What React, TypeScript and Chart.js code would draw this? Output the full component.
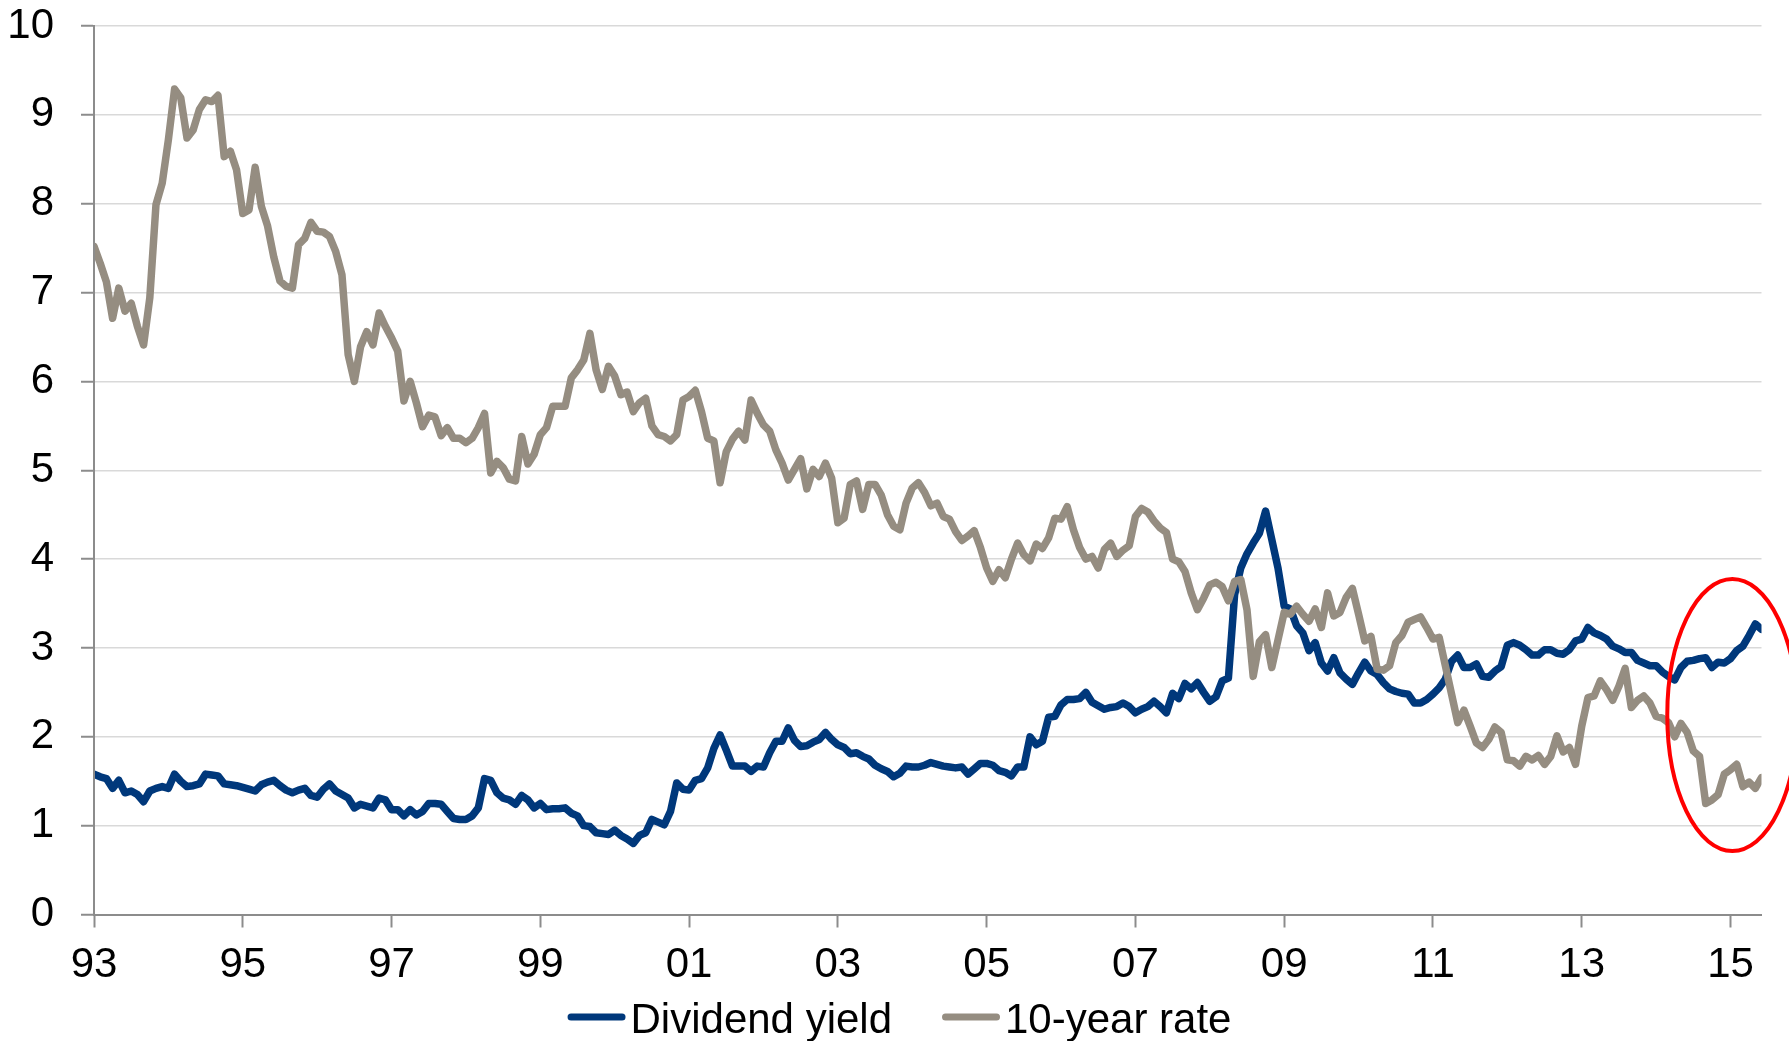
import React, { useEffect, useRef } from "react";
import { Chart, registerables } from "chart.js";

Chart.register(...registerables);

const FONT = '"Liberation Sans", Arial, Helvetica, sans-serif';
const AXIS_COLOR = "#8c8c8c";
const GRID_COLOR = "#d9d9d9";

// Monthly observations, Jan 1993 .. Jun 2015 (index = months since Jan 1993)
const startYear = 1993;
const tickYears = [1993, 1995, 1997, 1999, 2001, 2003, 2005, 2007, 2009, 2011, 2013, 2015];

const dividendYield = [
  1.58, 1.55, 1.53, 1.42, 1.51, 1.37, 1.39, 1.35, 1.27, 1.39,
  1.42, 1.44, 1.42, 1.58, 1.50, 1.44, 1.45, 1.47, 1.58, 1.57,
  1.56, 1.47, 1.46, 1.45, 1.43, 1.41, 1.39, 1.46, 1.49, 1.51,
  1.45, 1.40, 1.37, 1.40, 1.42, 1.34, 1.32, 1.41, 1.47, 1.39,
  1.35, 1.31, 1.20, 1.24, 1.22, 1.20, 1.31, 1.29, 1.18, 1.18,
  1.11, 1.18, 1.12, 1.16, 1.25, 1.25, 1.24, 1.16, 1.08, 1.07,
  1.07, 1.11, 1.20, 1.53, 1.51, 1.37, 1.31, 1.29, 1.24, 1.34,
  1.29, 1.20, 1.25, 1.18, 1.19, 1.19, 1.20, 1.14, 1.11, 1.00,
  0.99, 0.92, 0.91, 0.90, 0.95, 0.89, 0.85, 0.80, 0.89, 0.92,
  1.07, 1.04, 1.01, 1.16, 1.48, 1.41, 1.40, 1.51, 1.53, 1.65,
  1.87, 2.02, 1.85, 1.67, 1.67, 1.67, 1.61, 1.67, 1.66, 1.82,
  1.95, 1.95, 2.10, 1.96, 1.89, 1.90, 1.94, 1.97, 2.05, 1.97,
  1.91, 1.88, 1.81, 1.82, 1.78, 1.75, 1.68, 1.64, 1.61, 1.55,
  1.59, 1.67, 1.66, 1.66, 1.68, 1.71, 1.69, 1.67, 1.66, 1.65,
  1.66, 1.58, 1.64, 1.70, 1.70, 1.68, 1.62, 1.60, 1.56, 1.66,
  1.66, 2.00, 1.91, 1.95, 2.22, 2.23, 2.36, 2.42, 2.42, 2.43,
  2.50, 2.39, 2.35, 2.31, 2.33, 2.34, 2.38, 2.34, 2.27, 2.31,
  2.34, 2.40, 2.34, 2.27, 2.49, 2.43, 2.60, 2.54, 2.61, 2.50,
  2.40, 2.45, 2.63, 2.66, 3.60, 3.90, 4.06, 4.18, 4.29, 4.54,
  4.22, 3.90, 3.47, 3.44, 3.25, 3.17, 2.97, 3.06, 2.83, 2.74,
  2.89, 2.72, 2.65, 2.59, 2.72, 2.84, 2.74, 2.70, 2.61, 2.54,
  2.51, 2.49, 2.48, 2.38, 2.38, 2.42, 2.48, 2.55, 2.65, 2.85,
  2.92, 2.78, 2.78, 2.82, 2.68, 2.67, 2.74, 2.79, 3.03, 3.06,
  3.03, 2.98, 2.92, 2.92, 2.98, 2.98, 2.94, 2.93, 2.98, 3.08,
  3.10, 3.23, 3.17, 3.14, 3.10, 3.02, 2.99, 2.95, 2.95, 2.86,
  2.83, 2.80, 2.80, 2.73, 2.68, 2.64, 2.78, 2.85, 2.86, 2.88,
  2.89, 2.78, 2.84, 2.83, 2.88, 2.97, 3.02, 3.14, 3.27, 3.21,
];

const tenYearRate = [
  7.52, 7.33, 7.12, 6.71, 7.05, 6.79, 6.88, 6.62, 6.41, 6.94,
  7.99, 8.23, 8.72, 9.29, 9.19, 8.74, 8.83, 9.06, 9.17, 9.15,
  9.22, 8.53, 8.59, 8.38, 7.89, 7.93, 8.41, 7.97, 7.75, 7.40,
  7.13, 7.07, 7.05, 7.54, 7.61, 7.79, 7.69, 7.68, 7.63, 7.46,
  7.20, 6.30, 6.00, 6.39, 6.56, 6.41, 6.77, 6.62, 6.49, 6.34,
  5.78, 6.00, 5.76, 5.49, 5.62, 5.60, 5.39, 5.48, 5.36, 5.36,
  5.31, 5.36, 5.48, 5.64, 4.97, 5.10, 5.03, 4.90, 4.88, 5.38,
  5.07, 5.18, 5.40, 5.48, 5.72, 5.72, 5.72, 6.04, 6.13, 6.24,
  6.54, 6.13, 5.91, 6.17, 6.06, 5.85, 5.88, 5.66, 5.76, 5.81,
  5.50, 5.40, 5.38, 5.33, 5.40, 5.79, 5.83, 5.90, 5.66, 5.36,
  5.33, 4.86, 5.21, 5.35, 5.44, 5.34, 5.79, 5.64, 5.51, 5.44,
  5.23, 5.08, 4.89, 5.01, 5.13, 4.79, 5.01, 4.93, 5.08, 4.91,
  4.41, 4.46, 4.84, 4.88, 4.56, 4.84, 4.84, 4.72, 4.50, 4.37,
  4.33, 4.63, 4.80, 4.86, 4.75, 4.60, 4.63, 4.48, 4.45, 4.31,
  4.21, 4.26, 4.32, 4.13, 3.90, 3.75, 3.88, 3.79, 4.00, 4.18,
  4.05, 3.98, 4.17, 4.12, 4.24, 4.46, 4.45, 4.59, 4.33, 4.13,
  4.00, 4.03, 3.90, 4.11, 4.18, 4.03, 4.10, 4.15, 4.48, 4.57,
  4.53, 4.43, 4.35, 4.30, 4.00, 3.97, 3.86, 3.62, 3.43, 3.56,
  3.71, 3.74, 3.69, 3.53, 3.75, 3.77, 3.43, 2.68, 3.07, 3.15,
  2.78, 3.09, 3.40, 3.38, 3.47, 3.38, 3.30, 3.44, 3.23, 3.62,
  3.36, 3.40, 3.57, 3.67, 3.38, 3.08, 3.13, 2.76, 2.75, 2.80,
  3.06, 3.14, 3.29, 3.32, 3.35, 3.23, 3.10, 3.12, 2.80, 2.48,
  2.16, 2.30, 2.12, 1.93, 1.88, 1.97, 2.11, 2.05, 1.74, 1.73,
  1.67, 1.78, 1.74, 1.79, 1.69, 1.78, 2.01, 1.83, 1.88, 1.69,
  2.12, 2.44, 2.46, 2.63, 2.53, 2.41, 2.57, 2.77, 2.33, 2.41,
  2.46, 2.38, 2.23, 2.21, 2.16, 2.00, 2.15, 2.05, 1.84, 1.78,
  1.25, 1.29, 1.35, 1.58, 1.63, 1.69, 1.44, 1.49, 1.42, 1.54,
];

const seriesLabels = ["Dividend yield", "10-year rate"];
const seriesColors = ["#00387b", "#958d81"];

// Red highlight ellipse, in data units (months since Jan 1993 / percent)
const highlightCenterMonth = 264.3;
const highlightCenterValue = 2.245;
const highlightRadiusMonths = 10.5;
const highlightRadiusValue = 1.53;

const toPoints = (vals: number[]) => vals.map((v, i) => ({ x: i, y: v }));

const ellipsePlugin = {
  id: "highlightEllipse",
  afterDraw(chart: any) {
    const { ctx } = chart;
    const xs = chart.scales.x;
    const ys = chart.scales.y;
    const cx = xs.getPixelForValue(highlightCenterMonth);
    const cy = ys.getPixelForValue(highlightCenterValue);
    const rx = xs.getPixelForValue(highlightCenterMonth + highlightRadiusMonths) - cx;
    const ry = cy - ys.getPixelForValue(highlightCenterValue + highlightRadiusValue);
    ctx.save();
    ctx.beginPath();
    ctx.ellipse(cx, cy, rx, ry, 0, 0, Math.PI * 2);
    ctx.strokeStyle = "#ff0000";
    ctx.lineWidth = 4;
    ctx.stroke();
    ctx.restore();
  },
};

const legendPlugin = {
  id: "bottomLegend",
  afterDraw(chart: any) {
    const { ctx } = chart;
    ctx.save();
    ctx.font = `42px ${FONT}`;
    const sampleW = 58;
    const textGap = 5;
    const itemGap = 50;
    const items = chart.data.datasets.map((ds: any) => ({
      label: ds.label as string,
      color: ds.borderColor as string,
      w: ctx.measureText(ds.label).width,
    }));
    const total = items.reduce(
      (s: number, it: any, i: number) => s + sampleW + textGap + it.w + (i > 0 ? itemGap : 0),
      0
    );
    let x = chart.width / 2 + 5 - total / 2;
    const yLine = chart.height - 24;
    const yBase = chart.height - 8;
    items.forEach((it: any) => {
      ctx.strokeStyle = it.color;
      ctx.lineWidth = 7;
      ctx.lineCap = "round";
      ctx.beginPath();
      ctx.moveTo(x + 3.5, yLine);
      ctx.lineTo(x + sampleW - 3.5, yLine);
      ctx.stroke();
      ctx.fillStyle = "#000000";
      ctx.textAlign = "left";
      ctx.textBaseline = "alphabetic";
      ctx.fillText(it.label, x + sampleW + textGap, yBase);
      x += sampleW + textGap + it.w + itemGap;
    });
    ctx.restore();
  },
};

export default function App() {
  const canvasRef = useRef<HTMLCanvasElement>(null);

  useEffect(() => {
    document.body.style.margin = "0";
    const canvas = canvasRef.current;
    if (!canvas) return;
    const chart = new Chart(canvas, {
      type: "line",
      data: {
        datasets: [
          {
            label: seriesLabels[0],
            data: toPoints(dividendYield),
            borderColor: seriesColors[0],
            backgroundColor: seriesColors[0],
            borderWidth: 7.5,
            borderJoinStyle: "round",
            borderCapStyle: "round",
            pointRadius: 0,
            tension: 0,
            fill: false,
            order: 2,
          },
          {
            label: seriesLabels[1],
            data: toPoints(tenYearRate),
            borderColor: seriesColors[1],
            backgroundColor: seriesColors[1],
            borderWidth: 7.5,
            borderJoinStyle: "round",
            borderCapStyle: "round",
            pointRadius: 0,
            tension: 0,
            fill: false,
            order: 1,
          },
        ],
      },
      options: {
        responsive: false,
        animation: false,
        devicePixelRatio: 1,
        layout: { padding: { top: 26, right: 27.5, bottom: 0, left: 0 } },
        plugins: {
          legend: { display: false },
          tooltip: { enabled: false },
        },
        scales: {
          x: {
            type: "linear",
            min: 0,
            max: dividendYield.length - 1,
            afterFit: (s: any) => {
              s.height = 126.5;
            },
            afterBuildTicks: (s: any) => {
              s.ticks = tickYears.map((yr) => ({ value: (yr - startYear) * 12 }));
            },
            ticks: {
              autoSkip: false,
              maxRotation: 0,
              minRotation: 0,
              padding: 13,
              color: "#000000",
              font: { family: FONT, size: 42 },
              callback: (v: any) => String((startYear + Number(v) / 12) % 100).padStart(2, "0"),
            },
            grid: {
              drawOnChartArea: false,
              drawTicks: true,
              tickLength: 13,
              tickColor: AXIS_COLOR,
              tickWidth: 2,
            },
            border: { display: true, color: AXIS_COLOR, width: 2, z: 1 },
          },
          y: {
            type: "linear",
            min: 0,
            max: 10,
            afterFit: (s: any) => {
              s.width = 94;
              s.paddingTop = 0;
              s.paddingBottom = 0;
            },
            ticks: {
              stepSize: 1,
              padding: 27,
              color: "#000000",
              font: { family: FONT, size: 42 },
            },
            grid: {
              color: GRID_COLOR,
              lineWidth: 1.5,
              drawTicks: true,
              tickLength: 13,
              tickColor: AXIS_COLOR,
              tickWidth: 2,
            },
            border: { display: true, color: AXIS_COLOR, width: 2, z: 1 },
          },
        },
      },
      plugins: [ellipsePlugin, legendPlugin],
    } as any);
    return () => chart.destroy();
  }, []);

  return (
    <div style={{ position: "absolute", left: 0, top: 0, width: 1789, height: 1041 }}>
      <canvas ref={canvasRef} width={1789} height={1041} style={{ display: "block", width: 1789, height: 1041 }} />
    </div>
  );
}
